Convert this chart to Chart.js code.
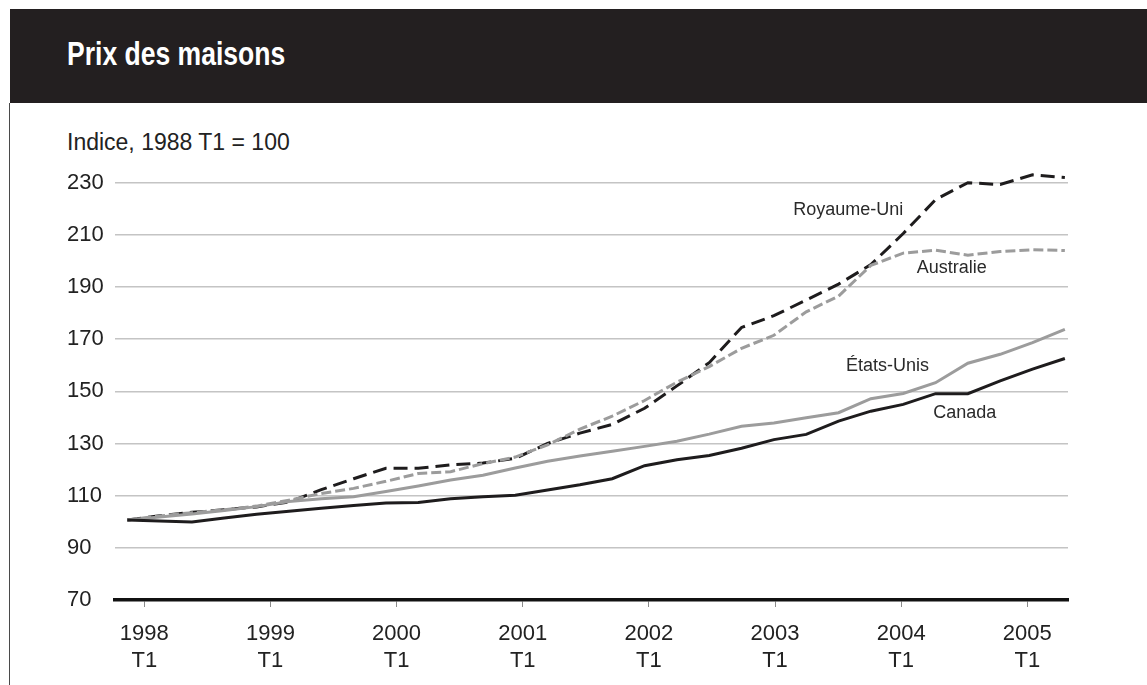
<!DOCTYPE html>
<html lang="fr">
<head>
<meta charset="utf-8">
<title>Prix des maisons</title>
<script src="https://cdn.jsdelivr.net/npm/chart.js@4.4.1/dist/chart.umd.min.js"></script>
<style>
  html, body { margin: 0; padding: 0; background: #fff; }
  #frame { position: relative; width: 1147px; height: 685px; overflow: hidden;
           font-family: "Liberation Sans", Arial, Helvetica, sans-serif; }
  #band { position: absolute; left: 10px; top: 9px; right: 0; height: 94px; background: #231f20; }
  #band h1 { position: absolute; left: 57px; top: 27px; margin: 0; line-height: 34px; white-space: nowrap;
             color: #fff; font-size: 34px; font-weight: bold;
             font-family: "Liberation Sans", Arial, sans-serif;
             transform: scaleX(0.78); transform-origin: 0 0; }
  #rule { position: absolute; left: 9px; top: 103px; width: 1px; bottom: 0; background: #4a4a4a; }
  #unit { position: absolute; left: 67px; top: 131px; line-height: 23px; font-size: 23px; color: #222; }
  #chart { position: absolute; left: 0; top: 0; }
</style>
</head>
<body>
<div id="frame">
  <div id="band"><h1>Prix des maisons</h1></div>
  <div id="rule"></div>
  <div id="unit">Indice, 1988 T1 = 100</div>
  <canvas id="chart" width="1147" height="685"></canvas>
</div>
<script>
// Quarterly house price indices, 1998 T1 to 2005 T2
const quarters = [
  '1998 T1','1998 T2','1998 T3','1998 T4',
  '1999 T1','1999 T2','1999 T3','1999 T4',
  '2000 T1','2000 T2','2000 T3','2000 T4',
  '2001 T1','2001 T2','2001 T3','2001 T4',
  '2002 T1','2002 T2','2002 T3','2002 T4',
  '2003 T1','2003 T2','2003 T3','2003 T4',
  '2004 T1','2004 T2','2004 T3','2004 T4',
  '2005 T1','2005 T2'
];
const canada = [100.7, 100.3, 99.9, 101.4, 102.9, 104.0, 105.2, 106.2, 107.2, 107.4,
                108.8, 109.6, 110.2, 112.2, 114.2, 116.5, 121.5, 123.8, 125.4, 128.2,
                131.5, 133.5, 138.6, 142.4, 145.0, 149.1, 149.1, 154.0, 158.5, 162.6];
const etatsUnis = [100.7, 101.8, 103.0, 104.3, 105.8, 107.8, 108.8, 109.6, 111.6, 113.7,
                   116.0, 117.8, 120.6, 123.2, 125.2, 127.0, 128.9, 130.9, 133.6, 136.6,
                   137.9, 139.9, 141.8, 147.2, 149.2, 153.3, 160.8, 164.2, 168.7, 173.8];
const australie = [100.7, 102.2, 103.5, 104.6, 106.0, 108.3, 110.8, 112.8, 115.5, 118.5,
                   119.2, 122.3, 124.8, 129.5, 135.5, 140.5, 146.5, 153.5, 159.5, 166.5,
                   171.5, 180.5, 186.5, 198.3, 203.0, 204.1, 202.2, 203.6, 204.3, 204.0];
const royaumeUni = [100.7, 102.3, 103.6, 104.6, 105.7, 107.6, 112.3, 116.5, 120.5, 120.5,
                    121.8, 122.5, 124.3, 130.0, 134.0, 137.3, 143.5, 152.1, 161.0, 174.5,
                    179.0, 185.0, 191.1, 198.6, 210.5, 223.5, 230.0, 229.3, 233.0, 232.0];

// Axis labels
const tickYears = [1998, 1999, 2000, 2001, 2002, 2003, 2004, 2005];
const tickQuarter = 'T1';
const yTicks = [70, 90, 110, 130, 150, 170, 190, 210, 230];

// Series names written beside the lines (quarter index, index value)
const seriesNames = [
  { text: 'Royaume-Uni', q: 20.6, v: 219.5 },
  { text: 'Australie',   q: 24.42, v: 197.2 },
  { text: 'États-Unis',  q: 22.23, v: 159.7 },
  { text: 'Canada',      q: 24.93, v: 141.6 }
];

const FONT = '"Liberation Sans", Arial, Helvetica, sans-serif';
const BLACK = '#1e1c1d';
const GREY = '#9c9c9c';

const toPoints = values => quarters.map((q, i) => ({ x: i, y: values[i] }));

const nameLabels = {
  id: 'nameLabels',
  afterDatasetsDraw(chart) {
    const { ctx, scales: { x, y } } = chart;
    ctx.save();
    ctx.font = '18px ' + FONT;
    ctx.fillStyle = '#2a2a2a';
    ctx.textAlign = 'left';
    ctx.textBaseline = 'middle';
    seriesNames.forEach(n => ctx.fillText(n.text, x.getPixelForValue(n.q), y.getPixelForValue(n.v)));
    ctx.restore();
  }
};

const line = (label, values, color, dash) => ({
  label,
  data: toPoints(values),
  borderColor: color,
  borderWidth: 3,
  borderDash: dash,
  borderCapStyle: 'butt',
  borderJoinStyle: 'miter',
  pointRadius: 0,
  tension: 0,
  fill: false,
  clip: false,
  xAxisID: 'x',
  yAxisID: 'y'
});

new Chart(document.getElementById('chart'), {
  type: 'line',
  data: {
    datasets: [
      line('Canada', canada, BLACK, []),
      line('États-Unis', etatsUnis, GREY, []),
      line('Australie', australie, GREY, [10, 4]),
      line('Royaume-Uni', royaumeUni, BLACK, [14, 7])
    ]
  },
  options: {
    responsive: false,
    animation: false,
    events: [],
    layout: { padding: { left: 67, right: 79, top: 182.7, bottom: 0 } },
    plugins: { legend: { display: false }, tooltip: { enabled: false }, title: { display: false } },
    scales: {
      x: {
        type: 'linear',
        display: false,
        min: -0.3805,
        max: 29.097
      },
      xt: {
        type: 'linear',
        position: 'bottom',
        min: 1997.7677,
        max: 2005.3227,
        afterBuildTicks(s) { s.ticks = tickYears.map(v => ({ value: v })); },
        afterFit(s) { s.height = 85; },
        ticks: {
          autoSkip: false,
          maxRotation: 0,
          padding: 14,
          color: '#222',
          font: { family: FONT, size: 22 },
          callback: v => [String(v), tickQuarter]
        },
        grid: { drawOnChartArea: false, drawTicks: true, tickLength: 7, color: '#8a8a8a', lineWidth: 1 },
        border: { display: true, color: '#111', width: 3.5 }
      },
      y: {
        position: 'left',
        min: 70,
        max: 230,
        afterBuildTicks(s) { s.ticks = yTicks.map(v => ({ value: v })); },
        afterFit(s) { s.width = 48; },
        ticks: {
          crossAlign: 'far',
          padding: 0,
          color: '#222',
          font: { family: FONT, size: 22 }
        },
        grid: { color: '#c4c4c4', lineWidth: 1.5, drawTicks: false },
        border: { display: false }
      }
    }
  },
  plugins: [nameLabels]
});
</script>
</body>
</html>
